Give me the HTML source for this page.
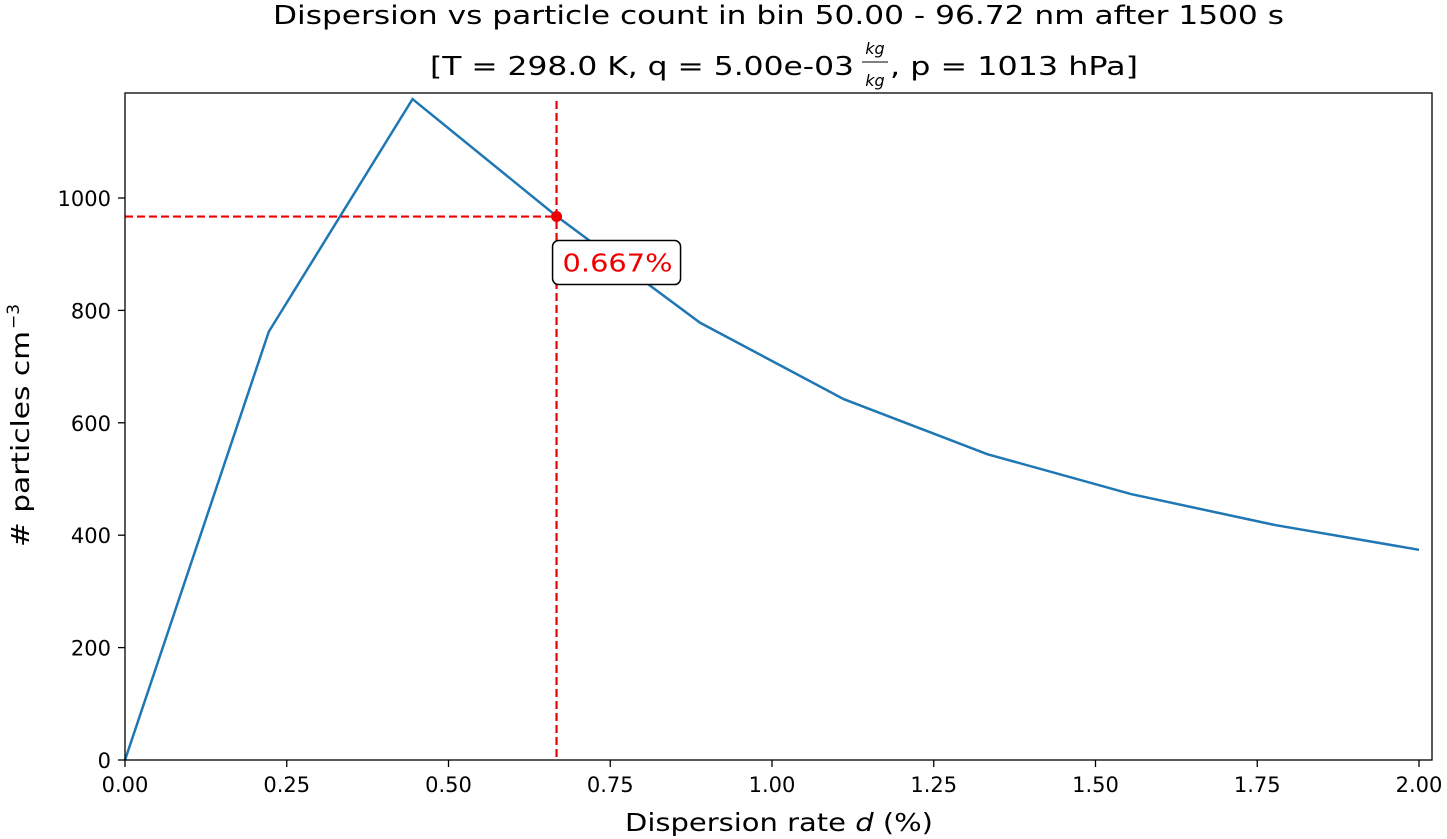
<!DOCTYPE html>
<html><head><meta charset="utf-8"><style>
body{margin:0;background:#fff}
svg{display:block;font-family:"DejaVu Sans","Liberation Sans",sans-serif}
</style></head><body>
<svg id="chart" width="1447" height="839" viewBox="0 0 1447 839">
<text x="273" y="24" font-size="26" textLength="1011" lengthAdjust="spacingAndGlyphs">Dispersion vs particle count in bin 50.00 - 96.72 nm after 1500 s</text>
<g font-size="26">
<text x="430" y="75" textLength="424" lengthAdjust="spacingAndGlyphs">[T = 298.0 K, q = 5.00e-03</text>
<text x="875" y="54" font-size="16" font-style="italic" text-anchor="middle">kg</text>
<line x1="862" y1="62" x2="888" y2="62" stroke="#000" stroke-width="1"/>
<text x="875" y="86" font-size="16" font-style="italic" text-anchor="middle">kg</text>
<text x="890" y="75" textLength="248" lengthAdjust="spacingAndGlyphs">, p = 1013 hPa]</text>
</g>
<g id="plot"></g>
<text x="625" y="831" font-size="25" textLength="308" lengthAdjust="spacingAndGlyphs">Dispersion rate <tspan font-style="italic">d</tspan> (%)</text>
<g transform="translate(29,547) rotate(-90)" font-size="25">
<text x="0" y="0" textLength="216" lengthAdjust="spacingAndGlyphs"># particles cm</text>
<text x="218" y="-10" font-size="17">−3</text>
</g>
</svg>
<script>
const xValues=[0,0.2222,0.4444,0.6667,0.8889,1.1111,1.3333,1.5556,1.7778,2.0];
const yValues=[0,762,1176,968,778,642,544,473,418,374];
const xTicks=[0,0.25,0.5,0.75,1.0,1.25,1.5,1.75,2.0];
const xTickLabels=["0.00","0.25","0.50","0.75","1.00","1.25","1.50","1.75","2.00"];
const yTicks=[0,200,400,600,800,1000];
const markX=0.667, markY=967;
const markLabel="0.667%";
const L=125,R=1432,T=93,B=760;
const X=v=>L+v*(1419-L)/2;
const Y=v=>B-v*0.562;
const ns="http://www.w3.org/2000/svg";
const g=document.getElementById('plot');
function mk(tag,attrs,parent){const e=document.createElementNS(ns,tag);for(const k in attrs)e.setAttribute(k,attrs[k]);(parent||g).appendChild(e);return e;}
let d=xValues.map((x,i)=>(i?'L':'M')+X(x)+','+Y(yValues[i])).join(' ');
const line=mk('path',{d:d,fill:'none',stroke:'#1f77b4','stroke-width':2.5});


const vl=mk('line',{x1:X(markX),y1:T+8,x2:X(markX),y2:B,stroke:'#e00','stroke-width':2.2,'stroke-dasharray':'8,4'});


const hl=mk('line',{x1:L,y1:Y(markY),x2:X(markX),y2:Y(markY),stroke:'#e00','stroke-width':2.2,'stroke-dasharray':'8,4'});


const pt=mk('circle',{cx:X(markX),cy:Y(markY),r:5.5,fill:'#e00'});


const box=mk('rect',{x:X(markX)-4,y:Y(markY)+24,width:128,height:44,rx:6,fill:'#fff',stroke:'#000','stroke-width':1.5});


const at=mk('text',{x:X(markX)+6,y:Y(markY)+55,'font-size':25,fill:'#e00',textLength:110,lengthAdjust:'spacingAndGlyphs'});
at.textContent=markLabel;


const frame=mk('rect',{x:L,y:T,width:R-L,height:B-T,fill:'none',stroke:'#000','stroke-width':1.3});


xTicks.forEach((v,i)=>{
 const t=mk('line',{x1:X(v),y1:B,x2:X(v),y2:B+7,stroke:'#000','stroke-width':1.3});
 
 
 const tx=mk('text',{x:X(v),y:B+32,'font-size':21,'text-anchor':'middle'});
 tx.textContent=xTickLabels[i];
 
 
});
yTicks.forEach(v=>{
 const t=mk('line',{x1:L-7,y1:Y(v),x2:L,y2:Y(v),stroke:'#000','stroke-width':1.3});
 
 
 const tx=mk('text',{x:L-14,y:Y(v)+8,'font-size':21,'text-anchor':'end'});
 tx.textContent=String(v);
 
 
});
</script>
</body></html>
